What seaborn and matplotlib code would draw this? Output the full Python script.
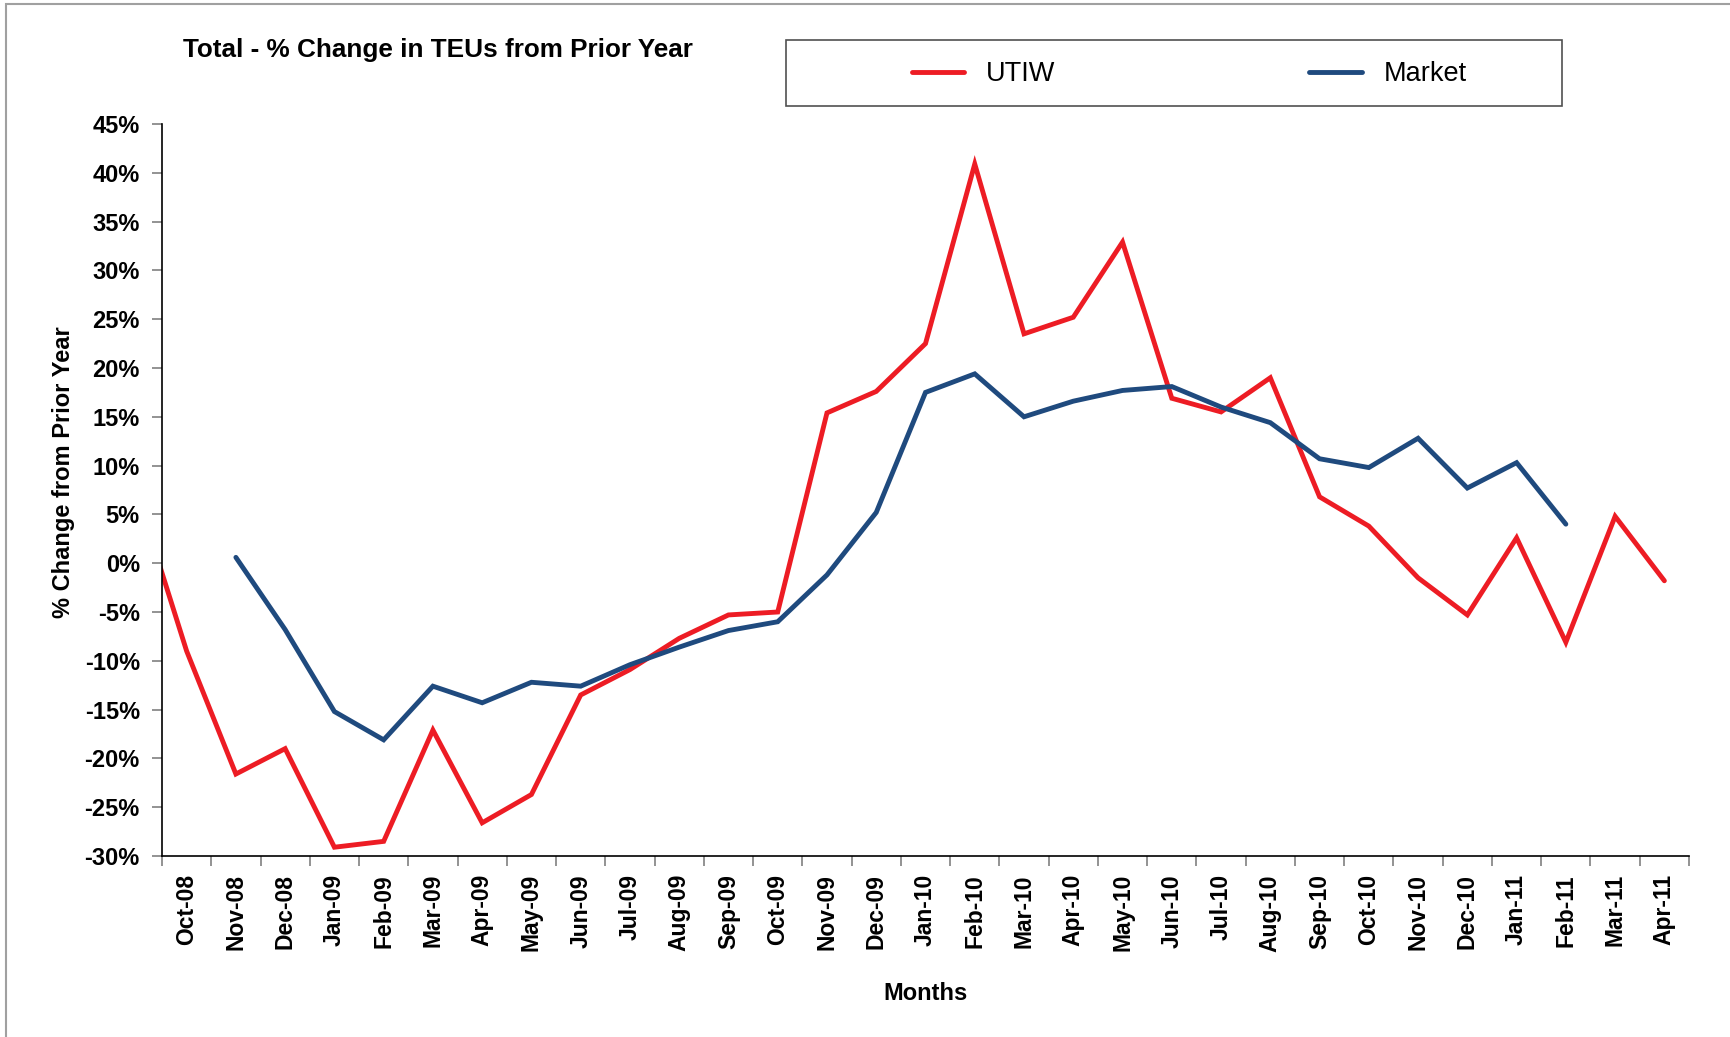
import matplotlib.pyplot as plt
import matplotlib.patches as patches
import matplotlib.ticker as mticker
from matplotlib.lines import Line2D
import numpy as np
import pandas as pd
import seaborn as sns

# months (Sep-08 sits just left of the axis, only its segment shows)
months = ["Sep-08", "Oct-08", "Nov-08", "Dec-08",
          "Jan-09", "Feb-09", "Mar-09", "Apr-09", "May-09", "Jun-09",
          "Jul-09", "Aug-09", "Sep-09", "Oct-09", "Nov-09", "Dec-09",
          "Jan-10", "Feb-10", "Mar-10", "Apr-10", "May-10", "Jun-10",
          "Jul-10", "Aug-10", "Sep-10", "Oct-10", "Nov-10", "Dec-10",
          "Jan-11", "Feb-11", "Mar-11", "Apr-11"]

utiw = [7.0, -9.0, -21.6, -19.0,
        -29.1, -28.5, -17.1, -26.6, -23.7, -13.5,
        -10.9, -7.7, -5.3, -5.0, 15.4, 17.6,
        22.5, 40.9, 23.5, 25.2, 32.9, 16.9,
        15.5, 19.0, 6.8, 3.8, -1.5, -5.3,
        2.6, -8.1, 4.8, -1.8]

market = [np.nan, np.nan, 0.6, -6.8,
          -15.2, -18.1, -12.6, -14.3, -12.2, -12.6,
          -10.4, -8.6, -6.9, -6.0, -1.2, 5.2,
          17.5, 19.4, 15.0, 16.6, 17.7, 18.1,
          16.0, 14.4, 10.7, 9.8, 12.8, 7.7,
          10.3, 4.0, np.nan, np.nan]

series_names = ["UTIW", "Market"]
colors = {"UTIW": "#ED1C24", "Market": "#1F4A7E"}

df = pd.DataFrame({"pos": range(len(months)), "month": months,
                   "UTIW": utiw, "Market": market})
long_df = df.melt(id_vars=["pos", "month"], value_vars=series_names,
                  var_name="series", value_name="pct").dropna()

sns.set_style("white")
plt.rcParams['font.family'] = ['Liberation Sans', 'DejaVu Sans']
plt.rcParams['text.color'] = 'black'

fig = plt.figure(figsize=(17.31, 10.37), dpi=100)
ax = fig.add_axes([162/1731, 1-856/1037, (1689-162)/1731, (856-124)/1037])

sns.lineplot(data=long_df, x="pos", y="pct", hue="series",
             hue_order=series_names, palette=colors, linewidth=3.5,
             ax=ax, legend=False, solid_capstyle="round",
             solid_joinstyle="miter")

ax.set_xlim(0.5, len(months) - 0.5)
ax.set_ylim(-30, 45)
ax.yaxis.set_major_locator(mticker.MultipleLocator(5))
ax.yaxis.set_major_formatter(mticker.FuncFormatter(lambda v, p: f"{v:.0f}%"))

# ticks between categories, labels at centers
ax.set_xticks(np.arange(0.5, len(months), 1.0))
ax.set_xticklabels([])
ax.set_xticks(range(1, len(months)), minor=True)
ax.set_xticklabels(months[1:], minor=True, rotation=90,
                   fontsize=16.5, fontweight="bold", color="black")
ax.tick_params(axis="x", which="major", direction="out", length=7,
               color="#808080", width=1.2, bottom=True)
ax.tick_params(axis="x", which="minor", length=0, pad=13, bottom=True)
ax.tick_params(axis="y", direction="out", length=7, color="#808080",
               width=1.2, pad=9, left=True, labelsize=17, labelcolor="black")
for lab in ax.get_yticklabels():
    lab.set_fontweight("bold")

for s in ["top", "right"]:
    ax.spines[s].set_visible(False)
for s in ["left", "bottom"]:
    ax.spines[s].set_color("black")
    ax.spines[s].set_linewidth(1.2)

ax.set_xlabel("Months", fontsize=17, fontweight="bold", labelpad=22,
              color="black")
ax.set_ylabel("% Change from Prior Year", fontsize=17, fontweight="bold",
              labelpad=6.5, color="black")
ax.yaxis.label.set_y(0.524)

fig.text(183/1731, 1-50/1037, "Total - % Change in TEUs from Prior Year",
         fontsize=18.8, fontweight="bold", ha="left", va="center")

# legend box
fig.patches.append(patches.Rectangle((786/1731, 1-106/1037), (1562-786)/1731,
                                     66/1037, transform=fig.transFigure,
                                     fill=False, edgecolor="#505050", lw=1.2))
handles = [Line2D([], [], color=colors[n], lw=3.5, solid_capstyle="round")
           for n in series_names]
fig.legend(handles, series_names, loc="center", ncol=2, frameon=False,
           bbox_to_anchor=(1189/1731, 1-74/1037), fontsize=19.5,
           handlelength=1.95, handletextpad=0.78, columnspacing=9.4)

# outer chart border
fig.patches.append(patches.Rectangle((6/1731, -0.1), 2, 1.1 - 4/1037,
                                     transform=fig.transFigure, fill=False,
                                     edgecolor="#a0a0a0", lw=1.5))

fig.savefig("out.png", dpi=100)
